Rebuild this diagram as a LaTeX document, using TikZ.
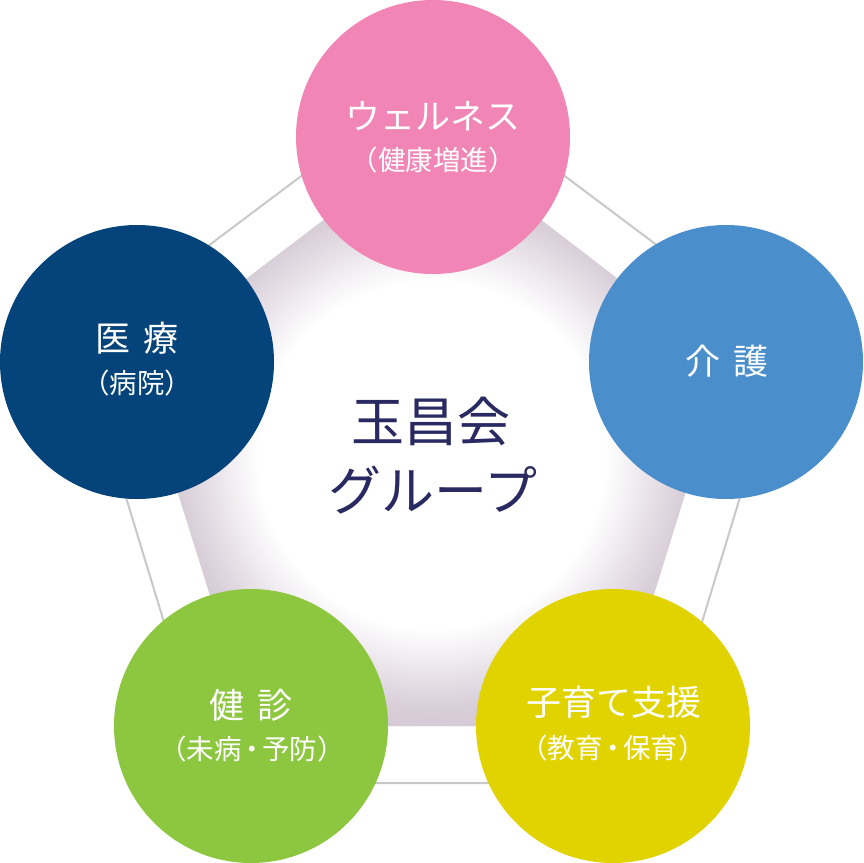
\documentclass[tikz,border=0pt]{standalone}
\usepackage{fontspec}
\newfontfamily\jp{Noto Sans CJK JP}
\definecolor{cpink}{HTML}{F186B6}
\definecolor{cblue}{HTML}{4A8ECB}
\definecolor{cnavy}{HTML}{04447A}
\definecolor{cgreen}{HTML}{8DC63F}
\definecolor{cyellow}{HTML}{E1D300}
\definecolor{ctitle}{HTML}{2A2A62}
\definecolor{cline}{HTML}{C8C8C8}
\definecolor{cmauve}{HTML}{D9CFD9}
\definecolor{cmauvedk}{HTML}{CFC3CF}
\pgfdeclareradialshading{pentshade}{\pgfpoint{0bp}{0bp}}{color(0bp)=(white); color(14.5bp)=(white); color(21bp)=(cmauve); color(25bp)=(cmauvedk); color(50bp)=(cmauvedk)}
\newcommand{\jpdot}{\kern-0.12em・\kern-0.12em}
\begin{document}
\begin{tikzpicture}[x=1pt,y=-1pt,
  bub/.style={circle, minimum size=274pt, inner sep=0pt, draw=none},
  mainlbl/.style={text=white, font=\jp\fontsize{35}{40}\selectfont, inner sep=0pt},
  sublbl/.style={text=white, font=\jp\fontsize{27.5}{32}\selectfont, inner sep=0pt},
  titlelbl/.style={text=ctitle, font=\jp\fontsize{53}{60}\selectfont, inner sep=0pt}]
\useasboundingbox (0,0) rectangle (864,862);
% outer pentagon
\coordinate (o1) at (433,77);
\coordinate (o2) at (787,343);
\coordinate (o3) at (653,783);
\coordinate (o4) at (213,783);
\coordinate (o5) at (79,343);
% inner pentagon (circle centres)
\coordinate (i1) at (433,137);
\coordinate (i2) at (726,362);
\coordinate (i3) at (613,726);
\coordinate (i4) at (251,726);
\coordinate (i5) at (137,362);
\draw[cline, line width=2pt] (o1) -- (o2) -- (o3) -- (o4) -- (o5) -- cycle;
\begin{scope}
  \clip (i1) -- (i2) -- (i3) -- (i4) -- (i5) -- cycle;
  \fill[cmauvedk] (100,100) rectangle (760,760);
  \shade[shading=pentshade] (432,455) circle[radius=300pt];
\end{scope}
% circles
\node[bub, fill=cpink] (wel) at (i1) {};
\node[bub, fill=cblue] (kai) at (i2) {};
\node[bub, fill=cyellow] (kos) at (i3) {};
\node[bub, fill=cgreen] (ken) at (i4) {};
\node[bub, fill=cnavy] (iry) at (i5) {};
% labels
\node[mainlbl] (welT) at (433,116) {ウェルネス};
\node[sublbl] (welS) at (433,160) {（健康増進）};
\node[mainlbl] (iryT) at (137,338) {医\hspace{0.35em}療};
\node[sublbl] (iryS) at (137,383) {（病院）};
\node[mainlbl] (kaiT) at (727,361) {介\hspace{0.35em}護};
\node[mainlbl] (kenT) at (251,705) {健\hspace{0.35em}診};
\node[sublbl] (kenS) at (252,749) {（未病\jpdot 予防）};
\node[mainlbl] (kosT) at (614,702) {子育て支援};
\node[sublbl] (kosS) at (613,748) {（教育\jpdot 保育）};
\node[titlelbl] (tit1) at (431,421) {玉昌会};
\node[titlelbl] (tit2) at (433,490) {グループ};
\end{tikzpicture}
\end{document}
